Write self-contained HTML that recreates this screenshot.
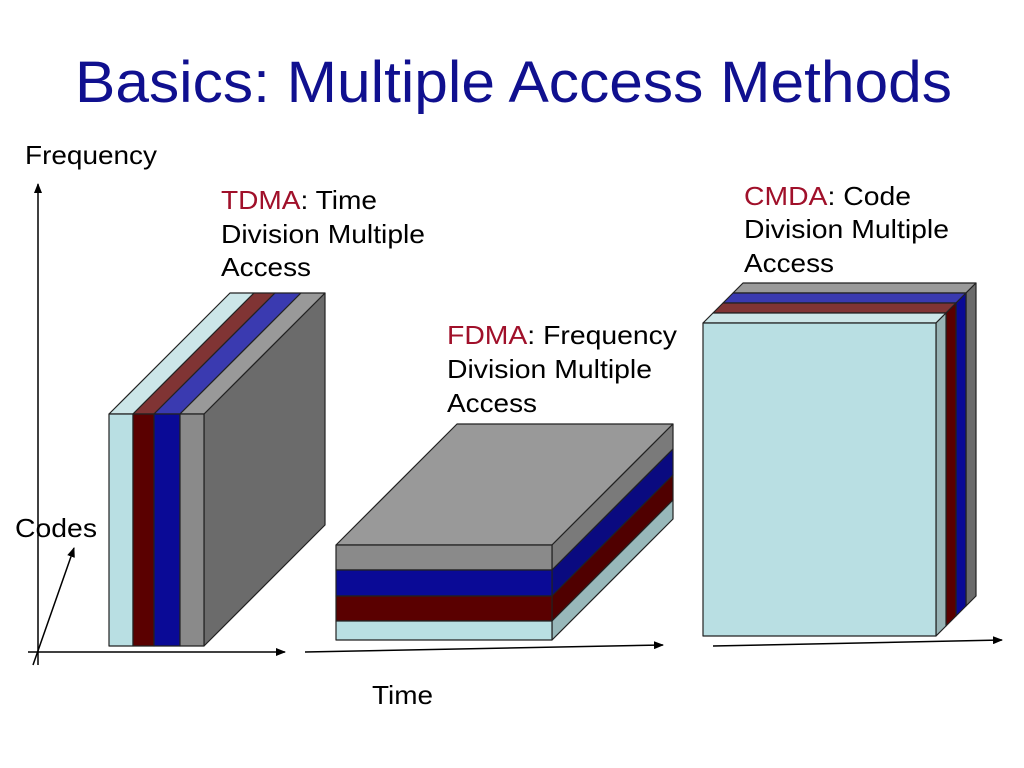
<!DOCTYPE html>
<html><head><meta charset="utf-8"><style>
html,body{margin:0;padding:0;background:#fff;width:1024px;height:768px;overflow:hidden}
svg{display:block}
text{font-family:"Liberation Sans",Arial,sans-serif}
</style></head><body>
<svg width="1024" height="768" viewBox="0 0 1024 768" xmlns="http://www.w3.org/2000/svg">
<defs>
<marker id="ar" markerWidth="10" markerHeight="8" refX="9" refY="4" orient="auto" markerUnits="userSpaceOnUse">
<path d="M0,0 L10,4 L0,8 z" fill="#000"/></marker>
</defs>
<text x="75" y="102" font-size="58" fill="#10108f" font-family="'DejaVu Sans','Liberation Sans',sans-serif" textLength="877" lengthAdjust="spacingAndGlyphs">Basics: Multiple Access Methods</text>

<g font-size="26" fill="#000">
<text x="25" y="164" textLength="132" lengthAdjust="spacingAndGlyphs">Frequency</text>
<text x="221" y="209" textLength="156" lengthAdjust="spacingAndGlyphs"><tspan fill="#a0102a">TDMA</tspan>: Time</text>
<text x="221" y="243" textLength="204" lengthAdjust="spacingAndGlyphs">Division Multiple</text>
<text x="221" y="276" textLength="90" lengthAdjust="spacingAndGlyphs">Access</text>
<text x="447" y="344" textLength="230" lengthAdjust="spacingAndGlyphs"><tspan fill="#a0102a">FDMA</tspan>: Frequency</text>
<text x="447" y="378" textLength="205" lengthAdjust="spacingAndGlyphs">Division Multiple</text>
<text x="447" y="412" textLength="90" lengthAdjust="spacingAndGlyphs">Access</text>
<text x="744" y="205" textLength="167" lengthAdjust="spacingAndGlyphs"><tspan fill="#a0102a">CMDA</tspan>: Code</text>
<text x="744" y="238" textLength="205" lengthAdjust="spacingAndGlyphs">Division Multiple</text>
<text x="744" y="272" textLength="90" lengthAdjust="spacingAndGlyphs">Access</text>
<text x="15" y="537" textLength="82" lengthAdjust="spacingAndGlyphs">Codes</text>
<text x="372" y="704" textLength="61" lengthAdjust="spacingAndGlyphs">Time</text>
</g>

<!-- axes -->
<g stroke="#000" stroke-width="1.5" fill="none">
<line x1="38" y1="665" x2="38" y2="184" marker-end="url(#ar)"/>
<line x1="28" y1="652" x2="285" y2="652" marker-end="url(#ar)"/>
<line x1="33" y1="665" x2="74" y2="548" marker-end="url(#ar)"/>
<line x1="305" y1="652" x2="663" y2="645" marker-end="url(#ar)"/>
<line x1="713" y1="646" x2="1002" y2="640" marker-end="url(#ar)"/>
</g>

<!-- TDMA -->
<g stroke="#222" stroke-width="1.2" stroke-linejoin="round">
<polygon points="204,414 325,293 325,525 204,646" fill="#6b6b6b"/>
<polygon points="109,414 230,293 254,293 133,414" fill="#cce6e8"/>
<polygon points="133,414 254,293 275,293 154,414" fill="#803434"/>
<polygon points="154,414 275,293 301,293 180,414" fill="#3a3ab0"/>
<polygon points="180,414 301,293 325,293 204,414" fill="#999"/>
<rect x="109" y="414" width="24" height="232" fill="#b9dfe3"/>
<rect x="133" y="414" width="21" height="232" fill="#5a0000"/>
<rect x="154" y="414" width="26" height="232" fill="#0a0a96"/>
<rect x="180" y="414" width="24" height="232" fill="#8a8a8a"/>
</g>

<!-- FDMA -->
<g stroke="#222" stroke-width="1.2" stroke-linejoin="round">
<polygon points="336,545 457,424 673,424 552,545" fill="#999"/>
<polygon points="552,545 673,424 673,449 552,570" fill="#7a7a7a"/>
<polygon points="552,570 673,449 673,475 552,596" fill="#0a0a80"/>
<polygon points="552,596 673,475 673,500 552,621" fill="#500000"/>
<polygon points="552,621 673,500 673,519 552,640" fill="#98b8ba"/>
<rect x="336" y="545" width="216" height="25" fill="#8a8a8a"/>
<rect x="336" y="570" width="216" height="26" fill="#0a0a96"/>
<rect x="336" y="596" width="216" height="25" fill="#5a0000"/>
<rect x="336" y="621" width="216" height="19" fill="#b9dfe3"/>
</g>

<!-- CDMA -->
<g stroke="#222" stroke-width="1.2" stroke-linejoin="round">
<polygon points="733,293 743,283 976,283 966,293" fill="#9a9a9a"/>
<polygon points="966,293 976,283 976,596 966,606" fill="#6b6b6b"/>
<polygon points="723,303 733,293 966,293 956,303" fill="#3a3ab0"/>
<polygon points="956,303 966,293 966,606 956,616" fill="#0a0a96"/>
<polygon points="713,313 723,303 956,303 946,313" fill="#803434"/>
<polygon points="946,313 956,303 956,616 946,626" fill="#5a0000"/>
<polygon points="703,323 713,313 946,313 936,323" fill="#cce6e8"/>
<polygon points="936,323 946,313 946,626 936,636" fill="#98b3b5"/>
<rect x="703" y="323" width="233" height="313" fill="#b9dfe3"/>
</g>
</svg>
</body></html>
